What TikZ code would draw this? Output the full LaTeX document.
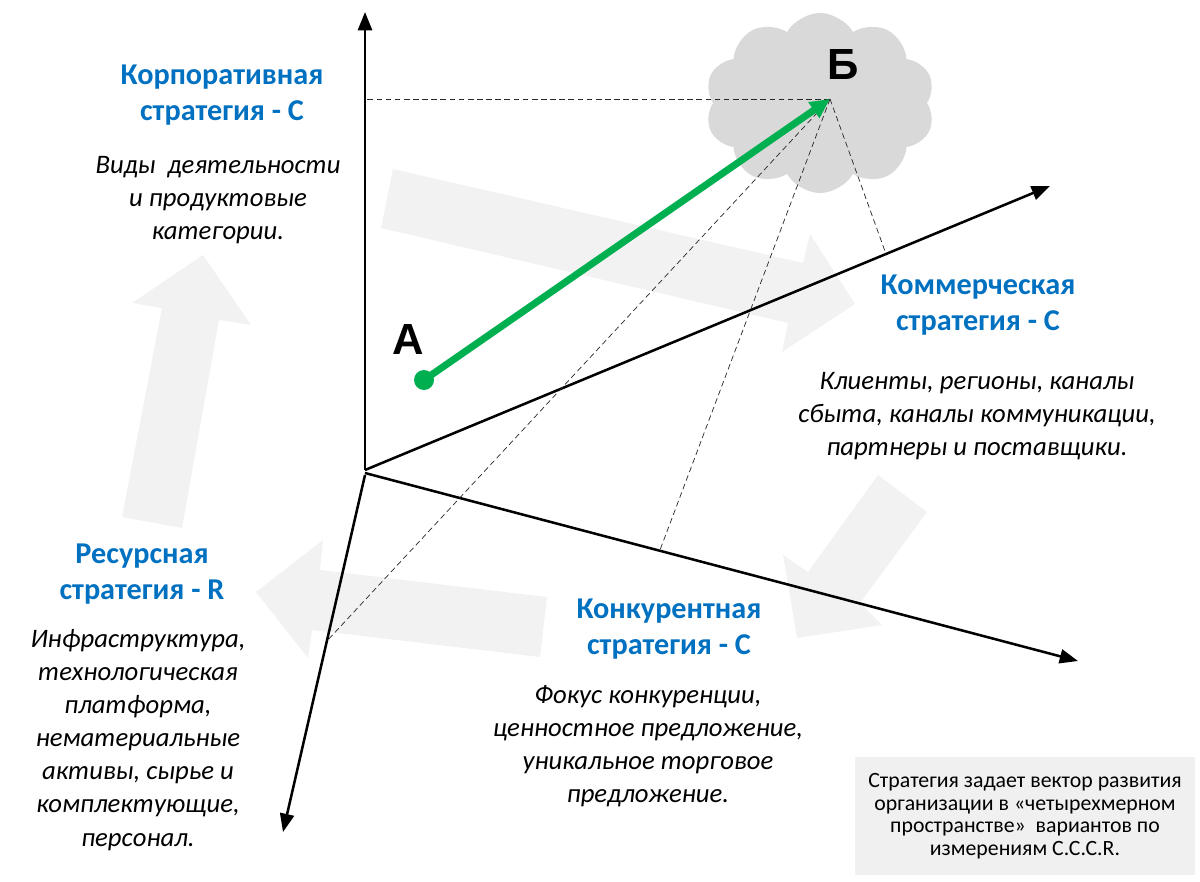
\documentclass[tikz,border=0pt]{standalone}
\usepackage{fontspec}
\setmainfont{Carlito}
\newfontfamily\letterfont{Liberation Sans}
\usepackage{tikz}
\usetikzlibrary{positioning, arrows.meta, shapes.symbols, calc}
\usepackage{xcolor}
\definecolor{titleBlue}{RGB}{0, 112, 192}
\definecolor{vectorGreen}{RGB}{0, 176, 80}
\definecolor{arrowGray}{RGB}{242, 242, 242}
\definecolor{cloudGray}{RGB}{217, 217, 217}
\definecolor{noteGray}{RGB}{240, 240, 240}

\begin{document}
\begin{tikzpicture}[x=0.025cm, y=-0.025cm,
    axis/.style={line width=1.8pt, -{Triangle[length=13pt, width=10pt]}},
    proj/.style={line width=0.5pt, dash pattern=on 4pt off 2.5pt, black!85},
    title/.style={font=\bfseries\fontsize{21.5}{25.6}\selectfont, text=titleBlue, align=center},
    desc/.style={font=\itshape\fontsize{19}{23.5}\selectfont, align=center},
    bigarrow/.style={fill=arrowGray, draw=none},
    letter/.style={font=\letterfont\bfseries\fontsize{31}{32}\selectfont}]
    \useasboundingbox (0,0) rectangle (1200,881);

    % light background arrows
    \fill[bigarrow] (203,255) -- (251,325) -- (219,320) -- (182,528) -- (122,517) -- (162,308) -- (132,303) -- cycle;
    \fill[bigarrow] (855,304) -- (782,352) -- (788,323) -- (381,228) -- (393,169) -- (803,263) -- (810,234) -- cycle;
    \fill[bigarrow] (797,638) -- (783,555) -- (808,572) -- (878,475) -- (927,512) -- (860,603) -- (882,625) -- cycle;
    \fill[bigarrow] (256,592) -- (323,540) -- (320,570) -- (547,597) -- (540,657) -- (312,630) -- (308,658) -- cycle;

    \node[cloud, cloud puffs=10, cloud puff arc=120, aspect=1.25, fill=cloudGray, draw=none, minimum width=5.75cm, minimum height=4.5cm] (cloud) at (820,103) {};

    % axes
    \coordinate (O) at (365,470);
    \coordinate (corpEnd) at (365,12);
    \coordinate (commEnd) at (1050,186);
    \coordinate (compEnd) at (1078,661);
    \coordinate (resEnd) at (283,832);
    \draw[axis] (O) -- (corpEnd);
    \draw[axis] (O) -- (commEnd);
    \draw[axis] (365,473) -- (compEnd);
    \draw[axis] (365,475) -- (resEnd);

    % projections of B
    \coordinate (pointB) at (830,99);
    \coordinate (footCorp) at (365,99);
    \coordinate (footComm) at (886,254);
    \coordinate (footComp) at (660,550);
    \coordinate (footRes) at (326,642);
    \draw[proj] (pointB) -- (footCorp);
    \draw[proj] (pointB) -- (footComm);
    \draw[proj] (pointB) -- (footComp);
    \draw[proj] (pointB) -- (footRes);

    % strategy vector
    \node[circle, fill=vectorGreen, inner sep=0pt, minimum size=0.5cm] (pointA) at (424,380) {};
    \draw[line width=5pt, color=vectorGreen, -{Triangle[length=14pt, width=13pt]}] (pointA.center) -- (pointB);

    \node[letter] (labelA) at (408,339) {А};
    \node[letter] (labelB) at (843,65) {Б};

    % texts
    \node[title] (corpTitle) at (222,95) {Корпоративная\\стратегия - C};
    \node[desc] (corpDesc) at (218,200) {Виды\ \ деятельности\\и продуктовые\\категории.};

    \node[title] (commTitle) at (978,305) {Коммерческая\\стратегия - C};
    \node[desc] (commDesc) at (977,416) {Клиенты, регионы, каналы\\сбыта, каналы коммуникации,\\партнеры и поставщики.};

    \node[title] (resTitle) at (142,574) {Ресурсная\\стратегия - R};
    \node[desc] (resDesc) at (138,740) {Инфраструктура,\\технологическая\\платформа,\\нематериальные\\активы, сырье и\\комплектующие,\\персонал.};

    \node[title] (compTitle) at (669,629) {Конкурентная\\стратегия - C};
    \node[desc] (compDesc) at (648,746) {Фокус конкуренции,\\ценностное предложение,\\уникальное торговое\\предложение.};

    \node[fill=noteGray, minimum width=8.5cm, minimum height=2.95cm, align=center, font=\fontsize{15.5}{16}\selectfont] (note) at (1025,816) {Стратегия задает вектор развития\\организации в «четырехмерном\\пространстве»\ \ вариантов по\\измерениям C.C.C.R.};
\end{tikzpicture}
\end{document}
